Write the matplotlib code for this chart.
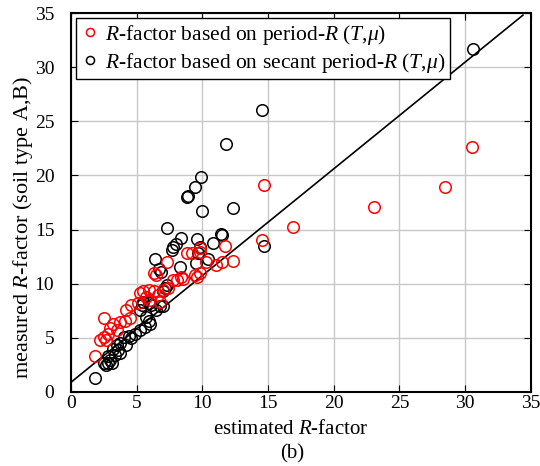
import matplotlib.pyplot as plt

plt.rcParams['font.family'] = ['Liberation Serif', 'DejaVu Serif']
plt.rcParams['mathtext.fontset'] = 'custom'
plt.rcParams['mathtext.it'] = 'Liberation Serif:italic'
plt.rcParams['mathtext.rm'] = 'Liberation Serif'

# period-R based R-factor (estimated, measured)
red_x = [14.7, 16.9, 14.5, 23.1, 28.5, 30.5, 11.7, 12.3, 11.5, 11.0, 10.3, 9.8,
         9.6, 9.8, 9.2, 8.8, 7.3, 6.3, 8.5, 8.1, 7.8, 7.4, 7.0, 6.6, 6.3, 5.9,
         5.5, 5.25, 5.7, 6.0, 6.8, 5.1, 4.6, 4.2, 4.5, 4.1, 3.7, 3.2, 2.5, 3.0,
         3.5, 2.8, 2.5, 2.2, 2.7, 1.8, 9.4, 8.4, 6.5, 9.8]
red_y = [19.1, 15.2, 14.0, 17.1, 18.9, 22.6, 13.5, 12.1, 12.0, 11.7, 12.0, 11.0,
         10.6, 12.9, 12.8, 12.8, 12.0, 11.0, 10.4, 10.3, 10.3, 9.6, 9.4, 9.0, 9.3, 9.4,
         9.3, 9.1, 8.8, 8.5, 8.3, 8.2, 8.0, 7.6, 6.8, 6.6, 6.5, 6.3, 6.8, 5.9,
         5.7, 5.4, 5.1, 4.8, 4.8, 3.3, 10.8, 10.6, 10.8, 13.3]

# secant period-R based R-factor
blk_x = [30.6, 14.5, 11.8, 9.9, 9.4, 8.9, 8.8, 10.0, 12.3, 7.3, 8.4, 9.6, 11.4,
         10.8, 14.7, 8.0, 7.8, 7.7, 9.7, 9.8, 10.4, 9.5, 8.3, 6.4, 6.7, 6.85,
         11.5, 7.3, 7.15, 7.0, 5.5, 5.9, 6.1, 5.4, 5.25, 6.8, 7.0, 6.5, 5.7, 5.9,
         6.0, 5.6, 5.25, 4.9, 4.4, 4.6, 4.0, 4.2, 3.7, 3.5, 3.2, 3.6, 3.7, 3.35,
         2.85, 3.0, 2.85, 2.5, 2.7, 3.1, 1.8]
blk_y = [31.7, 26.0, 22.9, 19.9, 18.9, 18.1, 18.0, 16.7, 17.0, 15.1, 14.2, 14.1, 14.6,
         13.8, 13.5, 13.7, 13.4, 13.1, 12.8, 13.4, 12.3, 11.9, 11.5, 12.3, 11.4, 11.05,
         14.5, 9.9, 9.6, 9.3, 8.3, 8.2, 8.0, 8.0, 7.6, 7.9, 7.9, 7.6, 6.9, 6.6,
         6.3, 6.0, 5.7, 5.4, 5.2, 4.95, 5.1, 4.3, 4.5, 4.3, 4.0, 3.9, 3.6, 3.4,
         3.3, 2.95, 2.65, 2.65, 2.5, 2.65, 1.26]

fit_x = [0, 34.4]
fit_y = [0.9, 34.8]

fig = plt.figure(figsize=(5.4, 4.66), dpi=100)
ax = fig.add_axes([0.1315, 0.1588, 0.8515, 0.8133])

ax.plot(fit_x, fit_y, color='black', lw=1.2, zorder=2)
ax.plot(blk_x, blk_y, 'o', mfc='none', mec='black', ms=8.3, mew=1.1, zorder=3,
        label=r'$R$-factor based on secant period-$R$ ($T$,$\mu$)')
ax.plot(red_x, red_y, 'o', mfc='none', mec='red', ms=8.3, mew=1.1, zorder=4,
        label=r'$R$-factor based on period-$R$ ($T$,$\mu$)')

ax.set_xlim(0, 35)
ax.set_ylim(0, 35)
ax.set_xticks(range(0, 36, 5))
ax.set_yticks(range(0, 36, 5))
ax.grid(True, color='#c8c8c8', lw=1)
ax.set_axisbelow(True)
ax.tick_params(direction='in', top=True, right=True, labelsize=14, length=5)
ax.tick_params(axis='x', pad=2)
ax.tick_params(axis='y', pad=12)
for s in ax.spines.values():
    s.set_linewidth(1.5)

ax.set_xlabel(r'estimated $R$-factor', fontsize=15)
ax.set_ylabel(r'measured $R$-factor (soil type A,B)', fontsize=16)
ax.xaxis.set_label_coords(0.478, -0.075)
ax.yaxis.set_label_coords(-0.079, 0.435)
fig.text(0.5405, 0.005, '(b)', ha='center', va='bottom', fontsize=15)

h, l = ax.get_legend_handles_labels()
leg = ax.legend(h[::-1], l[::-1], loc='upper left', fontsize=15.5, fancybox=False,
                edgecolor='black', framealpha=1, handletextpad=0.25, borderpad=0.2,
                handlelength=0.9, borderaxespad=0.25, labelspacing=0.2, markerscale=0.7)
leg.get_frame().set_linewidth(1.0)

plt.savefig('out.png', dpi=100)
